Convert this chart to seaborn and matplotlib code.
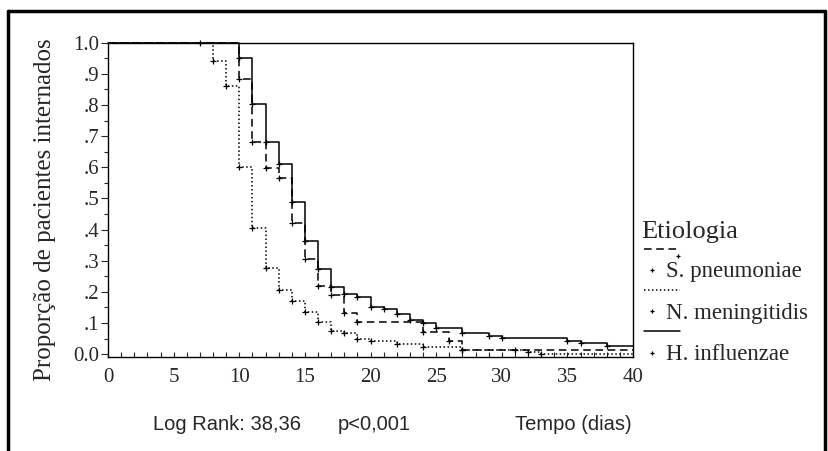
"""
Kaplan-Meier: tempo de internação por etiologia da meningite bacteriana
Output: out.png
"""

import pandas as pd
import matplotlib
matplotlib.use("Agg")
import matplotlib.pyplot as plt
from matplotlib.lines import Line2D
from matplotlib.ticker import MultipleLocator
import seaborn as sns

# ── data (tempo em dias, proporção ainda internada) ──────────────────────────
hi_t = [10, 11, 12, 13, 14, 15, 16, 17, 18, 19, 20, 21, 22, 23, 24, 25, 27, 29, 30, 35, 36, 38]
hi_s = [.952, .803, .682, .610, .488, .365, .275, .217, .194, .185, .153, .144,
        .128, .110, .100, .083, .067, .059, .051, .041, .035, .025]

sp_t = [10, 11, 12, 13, 14, 15, 16, 17, 18, 19, 24, 26, 27]
sp_s = [.883, .682, .597, .565, .422, .306, .219, .190, .132, .103, .071, .041, .014]

nm_t = [8, 9, 10, 11, 12, 13, 14, 15, 16, 17, 18, 19, 20, 22, 24, 27, 32, 33]
nm_s = [.941, .862, .602, .404, .276, .206, .171, .135, .102, .075, .067, .048,
        .041, .032, .022, .012, .006, 0.0]

# extra censored cases on flat stretches
sp_cens_t = [31]
nm_cens_t = [7]

t_end = 40
x_ticks = [0, 5, 10, 15, 20, 25, 30, 35, 40]
y_ticks = [0.0, .1, .2, .3, .4, .5, .6, .7, .8, .9, 1.0]
y_ticklabels = ["0.0", ".1", ".2", ".3", ".4", ".5", ".6", ".7", ".8", ".9", "1.0"]

groups = ["S. pneumoniae", "N. meningitidis", "H. influenzae"]
linestyles = {"S. pneumoniae": (0, (5, 3)),
              "N. meningitidis": (0, (1, 1.6)),
              "H. influenzae": "-"}

sns.set_style("ticks")
plt.rcParams["font.family"] = ["Liberation Serif", "DejaVu Serif"]
plt.rcParams["axes.linewidth"] = 1.0


def km_frame(t, s):
    tt = [0] + list(t) + [t_end]
    ss = [1.0] + list(s) + [s[-1]]
    return pd.DataFrame({"tempo": tt, "prop": ss})


def level_at(t, s, x):
    lev = 1.0
    for ti, si in zip(t, s):
        if ti <= x:
            lev = si
    return lev


curves = {"S. pneumoniae": (sp_t, sp_s, sp_cens_t),
          "N. meningitidis": (nm_t, nm_s, nm_cens_t),
          "H. influenzae": (hi_t, hi_s, [])}

fig = plt.figure(figsize=(8.29, 4.51), dpi=100)
ax = fig.add_axes([0.1303, 0.2091, 0.6333, 0.6962])

for g in groups:
    t, s, extra = curves[g]
    d = km_frame(t, s)
    sns.lineplot(data=d, x="tempo", y="prop", ax=ax, color="black", lw=1.1,
                 drawstyle="steps-post", estimator=None, sort=False,
                 linestyle=linestyles[g], clip_on=False)
    ct = list(t) + list(extra)
    cs = list(s) + [level_at(t, s, x) for x in extra]
    sns.scatterplot(x=ct, y=cs, ax=ax, marker="+", color="black", s=14,
                    linewidth=0.9, clip_on=False, zorder=3)

ax.set_xlim(0, t_end)
ax.set_ylim(-0.008, 1.0)
ax.set_xticks(x_ticks)
ax.xaxis.set_minor_locator(MultipleLocator(1))
ax.set_yticks(y_ticks)
ax.set_yticklabels(y_ticklabels)
ax.yaxis.set_minor_locator(MultipleLocator(0.05))
ax.tick_params(axis="x", which="both", direction="in", length=3.5, width=0.8,
               labelsize=15, pad=8)
ax.tick_params(axis="y", which="major", direction="out", length=5, width=0.8,
               labelsize=15, pad=1.5)
ax.tick_params(axis="y", which="minor", direction="out", length=3, width=0.8)
ax.set_xlabel("")
ax.set_ylabel("")
for sp in ax.spines.values():
    sp.set_visible(True)
    sp.set_color("black")


def fx(px):
    return px / 829


def fy(py):
    return 1 - py / 451


fig.text(fx(45), fy(210), "Proporção de pacientes internados", rotation=90,
         ha="center", va="center", fontsize=18)

# legend, SPSS style: line sample on one row, censor mark + label below
fig.text(fx(641), fy(232), "Etiologia", fontsize=19, ha="left", va="center")
sample_y = [249, 290, 331]
label_y = [272, 313, 355]
for g, ly, ty in zip(groups, sample_y, label_y):
    fig.add_artist(Line2D([fx(644), fx(680)], [fy(ly)] * 2, transform=fig.transFigure,
                          color="black", lw=1.1, linestyle=linestyles[g]))
    fig.add_artist(Line2D([fx(652)], [fy(ty - 2)], transform=fig.transFigure,
                          color="black", marker="+", ms=3, mew=0.9, linestyle="none"))
    fig.text(fx(666), fy(ty), g, fontsize=16.5, ha="left", va="center")
fig.add_artist(Line2D([fx(678)], [fy(256)], transform=fig.transFigure,
                      color="black", marker="+", ms=3, mew=0.9, linestyle="none"))

sans = ["Liberation Sans", "DejaVu Sans"]
fig.text(fx(153), fy(425), "Log Rank: 38,36", family=sans, fontsize=14.5, va="center")
fig.text(fx(338), fy(425), "p<0,001", family=sans, fontsize=14.5, va="center")
fig.text(fx(515), fy(425), "Tempo (dias)", family=sans, fontsize=14.5, va="center")

# outer frame (left, top, right)
for xs, ys in [([fx(8), fx(8)], [fy(10.5), 0]),
               ([fx(8), fx(825)], [fy(10.5), fy(10.5)]),
               ([fx(825), fx(825)], [fy(10.5), 0])]:
    fig.add_artist(Line2D(xs, ys, transform=fig.transFigure, color="black", lw=2.5))

fig.savefig("out.png", dpi=100)
print("Saved: out.png")
